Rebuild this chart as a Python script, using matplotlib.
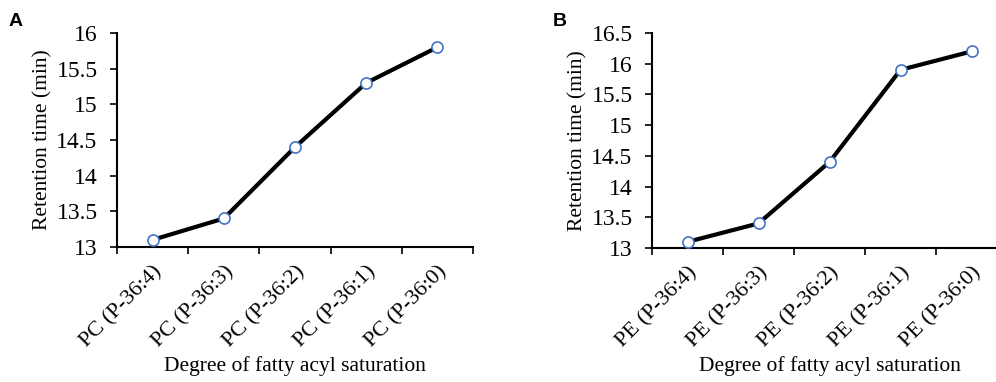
import numpy as np
import matplotlib
matplotlib.use('Agg')
import matplotlib.pyplot as plt

# data
pc_labels = ['PC (P-36:4)', 'PC (P-36:3)', 'PC (P-36:2)', 'PC (P-36:1)', 'PC (P-36:0)']
pc_times = [13.1, 13.4, 14.4, 15.3, 15.8]
pe_labels = ['PE (P-36:4)', 'PE (P-36:3)', 'PE (P-36:2)', 'PE (P-36:1)', 'PE (P-36:0)']
pe_times = [13.1, 13.4, 14.4, 15.9, 16.2]

pc_yticks = [13, 13.5, 14, 14.5, 15, 15.5, 16]
pe_yticks = [13, 13.5, 14, 14.5, 15, 15.5, 16, 16.5]

plt.rcParams['font.family'] = 'Liberation Serif'

W, H = 996, 382
fig = plt.figure(figsize=(W / 100, H / 100), dpi=100)
FS = 16


def panel(rect, labels, times, yticks, letter, letter_xy):
    l, t, r, b = rect
    ax = fig.add_axes([l / W, 1 - b / H, (r - l) / W, (b - t) / H])
    x = np.arange(len(labels))
    ax.plot(x, times, color='black', lw=3, marker='o', markersize=8,
            markerfacecolor='white', markeredgecolor='#4472C4', markeredgewidth=1.2,
            clip_on=False, zorder=3)
    ax.set_xlim(-0.5, len(labels) - 0.5)
    ax.set_ylim(yticks[0], yticks[-1])
    ax.set_yticks(yticks)
    ax.set_yticklabels(['{:g}'.format(v) for v in yticks], fontsize=17,
                       family='Liberation Serif')
    ax.set_xticks(x)
    ax.set_xticklabels(labels, fontsize=FS, rotation=45, ha='right',
                       rotation_mode='anchor', family='Liberation Serif')
    ax.set_xticks(np.arange(-0.5, len(labels)), minor=True)
    ax.tick_params(axis='x', which='major', length=0, pad=11)
    ax.tick_params(axis='x', which='minor', length=5, width=1.2, direction='out')
    ax.tick_params(axis='y', length=5, width=1.2, direction='out', pad=9)
    for s in ['top', 'right']:
        ax.spines[s].set_visible(False)
    for s in ['left', 'bottom']:
        ax.spines[s].set_linewidth(1.5)
    ax.set_ylabel('Retention time (min)', fontsize=15.5, labelpad=3)
    ax.set_xlabel('Degree of fatty acyl saturation', fontsize=15.5, labelpad=3)
    fig.text(letter_xy[0] / W, 1 - letter_xy[1] / H, letter, fontsize=14,
             fontweight='bold', family='Liberation Sans', va='center', ha='left')
    return ax


panel((117, 33, 473, 247), pc_labels, pc_times, pc_yticks, 'A', (9, 22))
panel((652, 33, 1007, 248), pe_labels, pe_times, pe_yticks, 'B', (553, 22))

fig.savefig('out.png', dpi=100)
